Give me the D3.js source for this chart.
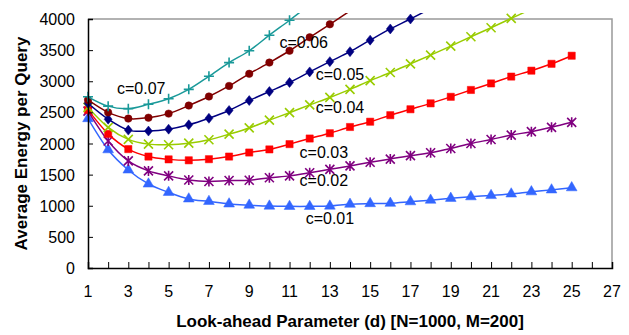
<!DOCTYPE html>
<html>
<head>
<meta charset="utf-8">
<script src="https://cdn.jsdelivr.net/npm/d3@7"></script>
<style>
  body { margin: 0; background: #fff; }
  svg { display: block; font-family: Arial, "Liberation Sans", sans-serif; }
  .tick-label { font-size: 16px; fill: #000; }
  .axis-title { font-size: 17px; font-weight: bold; fill: #000; }
  .series-label { font-size: 16px; fill: #000; }
</style>
</head>
<body>
<svg id="chart" width="629" height="335"></svg>
<script>
// look-ahead parameter d
const dValues = d3.range(1, 26);
const xTicks = d3.range(1, 28, 2);
const yTicks = d3.range(0, 4001, 500);

// energy per query, one array per c (last values run off the top of the plot)
const c001 = [2400, 1900, 1575, 1350, 1215, 1110, 1070, 1030, 1010, 995, 990, 990, 995, 1025, 1035, 1040, 1065, 1090, 1120, 1145, 1165, 1190, 1225, 1255, 1290];
const c002 = [2520, 2040, 1720, 1560, 1480, 1414, 1390, 1405, 1410, 1450, 1480, 1530, 1585, 1640, 1698, 1750, 1805, 1852, 1920, 2000, 2065, 2135, 2190, 2260, 2340];
const c003 = [2540, 2155, 1910, 1790, 1745, 1730, 1748, 1790, 1855, 1905, 1990, 2080, 2165, 2265, 2350, 2455, 2550, 2645, 2750, 2860, 2965, 3075, 3170, 3280, 3410];
const c004 = [2580, 2260, 2067, 1990, 1980, 2005, 2060, 2150, 2250, 2375, 2495, 2620, 2740, 2870, 3010, 3140, 3280, 3420, 3565, 3715, 3860, 4010, 4160];
const c005 = [2645, 2390, 2215, 2200, 2230, 2300, 2405, 2530, 2690, 2835, 2980, 3150, 3315, 3475, 3660, 3840, 4000, 4170];
const c006 = [2700, 2500, 2400, 2415, 2480, 2610, 2755, 2925, 3120, 3300, 3490, 3705, 3915, 4130];
const c007 = [2750, 2600, 2560, 2630, 2720, 2870, 3080, 3300, 3490, 3740, 3980, 4230];

const seriesNames = ["c=0.01", "c=0.02", "c=0.03", "c=0.04", "c=0.05", "c=0.06", "c=0.07"];
const seriesValues = [c001, c002, c003, c004, c005, c006, c007];
const seriesColors = ["#3366ff", "#800080", "#ff0000", "#99cc00", "#000080", "#800000", "#199999"];
const seriesMarkers = ["triangle", "asterisk", "square", "x", "diamond", "circle", "plus"];
// label positions in data units [d, energy]
const labelPos = [[11.8, 707], [11.5, 1317], [11.5, 1767], [12.3, 2490], [12.3, 3020], [10.5, 3534], [2.44, 2795]];

const svg = d3.select('#chart');
const margin = { top: 19, right: 17, bottom: 67, left: 88 };
const width = 629, height = 335;

const xScale = d3.scaleLinear().domain([1, 27]).range([margin.left, width - margin.right]);
const yScale = d3.scaleLinear().domain([0, 4000]).range([height - margin.bottom, margin.top]);

const x0 = xScale(1), x1 = xScale(27), y0 = yScale(0), y1 = yScale(4000);

// plot frame: grey top and right
svg.append('path')
    .attr('d', `M${x0},${y1}H${x1}V${y0}`)
    .attr('fill', 'none')
    .attr('stroke', '#999')
    .attr('stroke-width', 1.5);

// clip lines a little above the top of the plot, like the original
svg.append('clipPath').attr('id', 'plot-clip')
    .append('rect')
    .attr('x', x0).attr('y', 13)
    .attr('width', x1 - x0).attr('height', y0 - 13);

const line = d3.line()
    .x((v, i) => xScale(dValues[i]))
    .y(v => yScale(v))
    .curve(d3.curveCardinal.tension(0));

const markerPath = (type) => {
    switch (type) {
        case 'triangle': return d3.symbol(d3.symbolTriangle, 50)();
        case 'square': return d3.symbol(d3.symbolSquare, 52)();
        case 'circle': return d3.symbol(d3.symbolCircle, 44)();
        case 'diamond': return 'M0,-5L4,0L0,5L-4,0Z';
        case 'x': return 'M-4.5,-4.5L4.5,4.5M-4.5,4.5L4.5,-4.5';
        case 'plus': return 'M-5,0H5M0,-5V5';
        case 'asterisk': return 'M-4.5,-4.5L4.5,4.5M-4.5,4.5L4.5,-4.5M0,-5V5';
    }
};

seriesValues.forEach((vals, k) => {
    const color = seriesColors[k];
    const g = svg.append('g');

    g.append('path')
        .attr('clip-path', 'url(#plot-clip)')
        .attr('d', line(vals))
        .attr('fill', 'none')
        .attr('stroke', color)
        .attr('stroke-width', 1.5);

    const filled = ['triangle', 'square', 'circle', 'diamond'].includes(seriesMarkers[k]);
    g.selectAll('path.marker')
        .data(vals.map((v, i) => ({ d: dValues[i], v })).filter(p => p.v <= 4020))
        .enter().append('path')
        .attr('class', 'marker')
        .attr('transform', p => `translate(${xScale(p.d)},${yScale(p.v)})`)
        .attr('d', markerPath(seriesMarkers[k]))
        .attr('fill', filled ? color : 'none')
        .attr('stroke', color)
        .attr('stroke-width', filled ? 0.5 : 1.6);

    svg.append('text')
        .attr('class', 'series-label')
        .attr('x', xScale(labelPos[k][0]))
        .attr('y', yScale(labelPos[k][1]))
        .text(seriesNames[k]);
});

// x axis
const xAxis = d3.axisBottom(xScale)
    .tickValues(d3.range(1, 28))
    .tickSize(-6)
    .tickFormat('');
const xAxisG = svg.append('g')
    .attr('transform', `translate(0,${y0})`)
    .call(xAxis);
xAxisG.select('.domain').attr('stroke', '#000').attr('stroke-width', 1.5);
xAxisG.selectAll('.tick line').attr('stroke', '#000');

svg.selectAll('text.x-label')
    .data(xTicks)
    .enter().append('text')
    .attr('class', 'tick-label x-label')
    .attr('x', d => xScale(d))
    .attr('y', y0 + 29)
    .attr('text-anchor', 'middle')
    .text(d => d);

// y axis
const yAxis = d3.axisLeft(yScale)
    .tickValues(yTicks)
    .tickSize(-5)
    .tickFormat('');
const yAxisG = svg.append('g')
    .attr('transform', `translate(${x0},0)`)
    .call(yAxis);
yAxisG.select('.domain').attr('stroke', '#000').attr('stroke-width', 1.5);
yAxisG.selectAll('.tick line').attr('stroke', '#000');

svg.selectAll('text.y-label')
    .data(yTicks)
    .enter().append('text')
    .attr('class', 'tick-label y-label')
    .attr('x', 75)
    .attr('y', d => yScale(d) + 6)
    .attr('text-anchor', 'end')
    .text(d => d);

// axis titles
svg.append('text')
    .attr('class', 'axis-title')
    .attr('x', 350)
    .attr('y', 327)
    .attr('text-anchor', 'middle')
    .text('Look-ahead Parameter (d) [N=1000, M=200]');

svg.append('text')
    .attr('class', 'axis-title')
    .attr('transform', `translate(27,${(y0 + y1) / 2}) rotate(-90)`)
    .attr('text-anchor', 'middle')
    .text('Average Energy per Query');
</script>
</body>
</html>
